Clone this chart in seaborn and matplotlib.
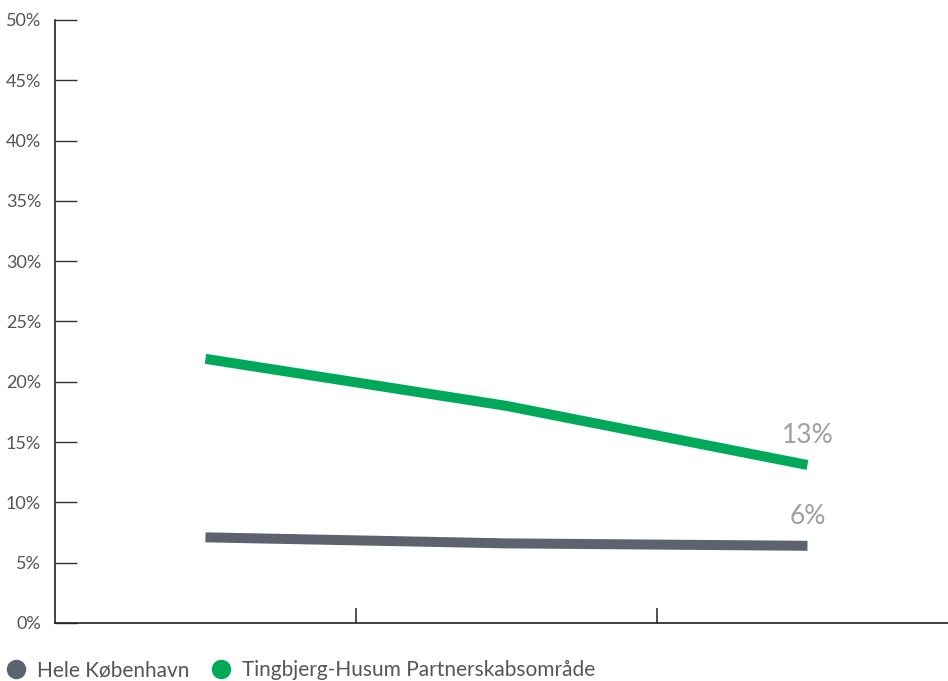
import matplotlib
matplotlib.use("Agg")
import matplotlib.pyplot as plt
from matplotlib.lines import Line2D
from matplotlib.ticker import FuncFormatter
import pandas as pd
import seaborn as sns

# data
periods = ["P1", "P2", "P3"]
hele_kbh = [7.1, 6.6, 6.4]
tingbjerg = [21.9, 18.0, 13.1]
series_names = ["Hele København", "Tingbjerg-Husum Partnerskabsområde"]
end_labels = ["6%", "13%"]
colors = ["#5c636e", "#00a859"]

df = pd.DataFrame({
    "x": list(range(len(periods))) * 2,
    "value": hele_kbh + tingbjerg,
    "serie": [series_names[0]] * 3 + [series_names[1]] * 3,
})

sns.set_style("white")
plt.rcParams["font.family"] = ["Lato", "DejaVu Sans"]

fig = plt.figure(figsize=(9.48, 6.81), dpi=100)
ax = fig.add_axes([0.058, 0.0852, 0.9525, 0.8855])

sns.lineplot(data=df, x="x", y="value", hue="serie", palette=colors,
             linewidth=7.2, ax=ax, legend=False, solid_capstyle="butt")

ax.set_xlim(-0.5, 2.5)
ax.set_ylim(0, 50)
ax.set_yticks(range(0, 51, 5))
ax.yaxis.set_major_formatter(FuncFormatter(lambda v, _: f"{int(v)}%"))
ax.set_xticks([0.5, 1.5])
ax.set_xticklabels([])
ax.set_xlabel("")
ax.set_ylabel("")

ax.tick_params(axis="y", direction="in", length=16, width=1, color="#333333",
               labelsize=13, labelcolor="#555555", pad=10, left=True)
ax.tick_params(axis="x", direction="in", length=11, width=1.2, color="#333333",
               bottom=True)

for side in ["top", "right"]:
    ax.spines[side].set_visible(False)
for side in ["left", "bottom"]:
    ax.spines[side].set_color("#222222")
    ax.spines[side].set_linewidth(1.2)

# end-of-line labels
last = len(periods) - 1
ax.text(last, hele_kbh[-1] + 1.4, end_labels[0], ha="center", va="bottom",
        fontsize=19, color="#9c9fa4")
ax.text(last, tingbjerg[-1] + 1.4, end_labels[1], ha="center", va="bottom",
        fontsize=19, color="#9c9fa4")

handles = [Line2D([], [], marker="o", linestyle="", markersize=13,
                  markerfacecolor=c, markeredgecolor=c) for c in colors]
fig.legend(handles, series_names, loc="lower left", bbox_to_anchor=(-0.02, -0.02),
           ncol=2, frameon=False, fontsize=15, labelcolor="#555555",
           handletextpad=0.0, columnspacing=0.5, borderaxespad=0.3)

fig.savefig("out.png", dpi=100)
